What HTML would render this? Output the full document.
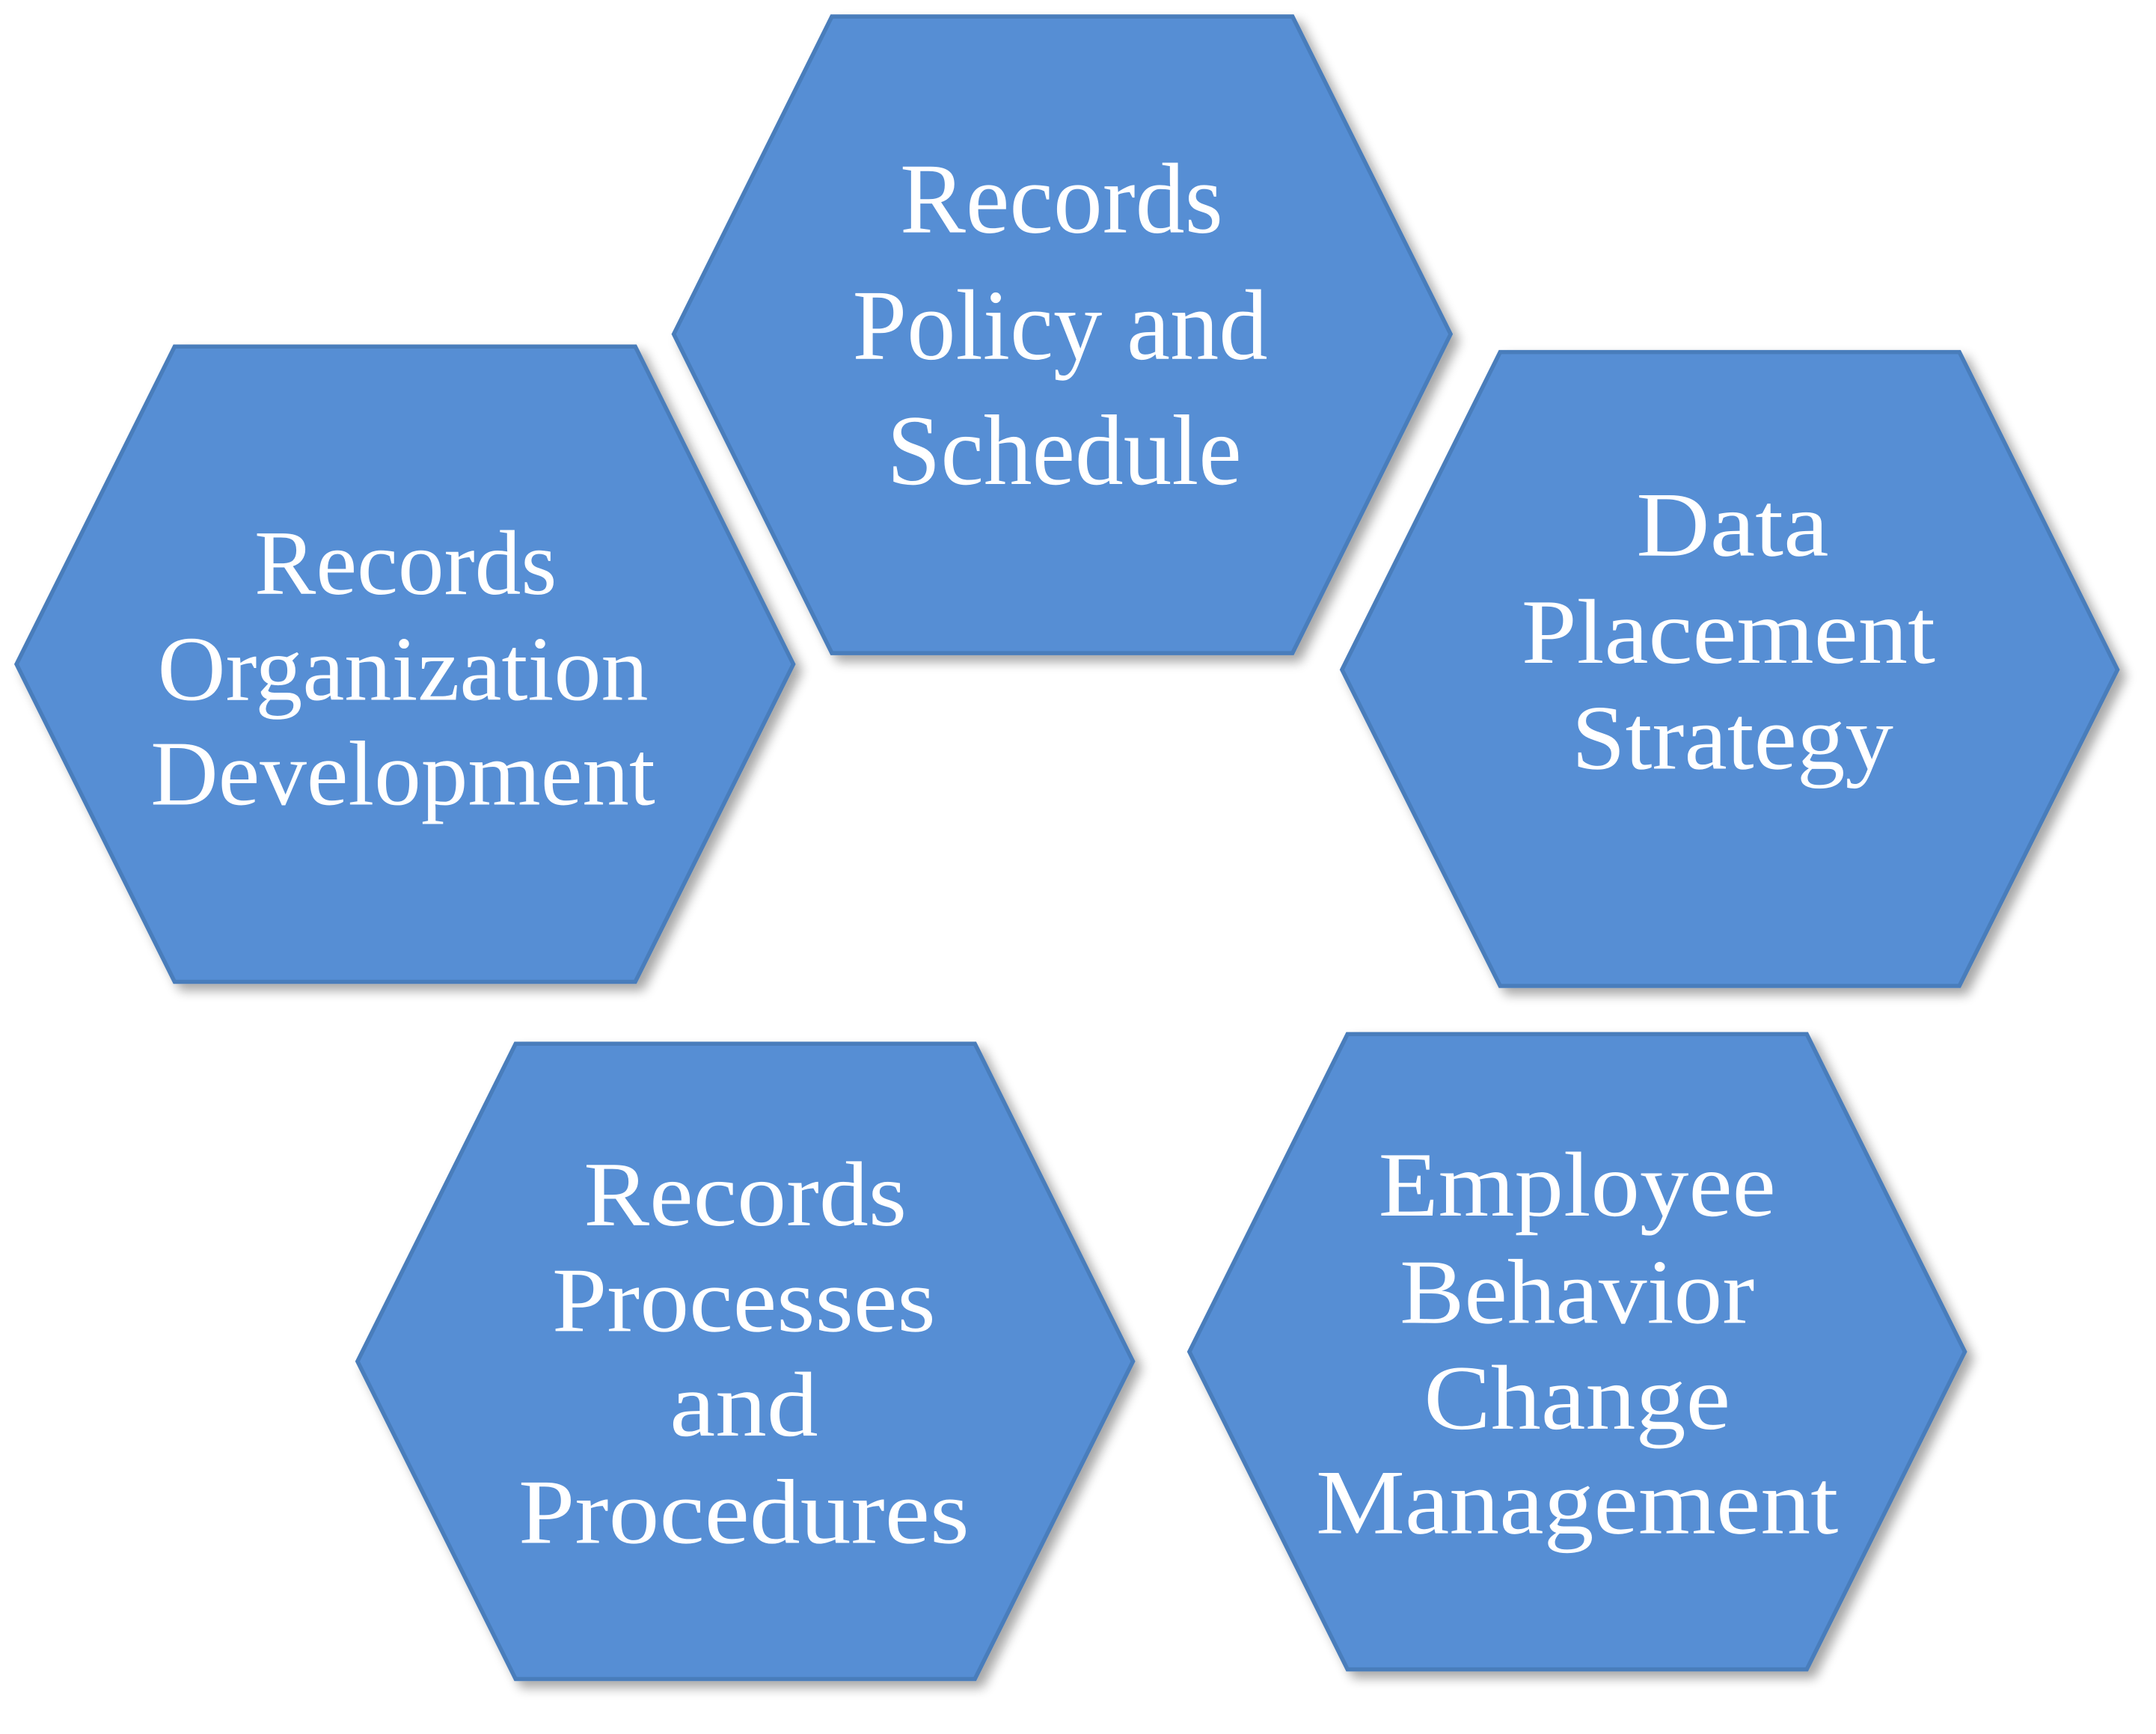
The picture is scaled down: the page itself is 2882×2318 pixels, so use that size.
<!DOCTYPE html>
<html><head><meta charset="utf-8"><style>
html,body{margin:0;padding:0;background:#fff;}
svg{display:block;}
text{font-family:"Liberation Serif","DejaVu Serif",serif;fill:#fff;text-anchor:middle;}
</style></head><body>
<svg width="2882" height="2318" viewBox="0 0 1568 1261" preserveAspectRatio="none" xmlns="http://www.w3.org/2000/svg">
<defs>
<filter id="sh" x="-10%" y="-10%" width="125%" height="125%">
<feGaussianBlur in="SourceAlpha" stdDeviation="4"/>
<feOffset dx="5" dy="5" result="b"/>
<feComponentTransfer><feFuncA type="linear" slope="0.35"/></feComponentTransfer>
<feMerge><feMergeNode/><feMergeNode in="SourceGraphic"/></feMerge>
</filter>
</defs>
<g fill="#568ED4" stroke="#4A7DBB" stroke-width="3" filter="url(#sh)">
<polygon points="490,243 605,12 940,12 1055,243 940,475 605,475"/>
<polygon points="12,483 127,252 462,252 577,483 462,714 127,714"/>
<polygon points="976,487 1091,256 1425,256 1540,487 1425,717 1091,717"/>
<polygon points="260,990 375,759 709,759 824,990 709,1221 375,1221"/>
<polygon points="865,983 980,752 1314,752 1429,983 1314,1214 980,1214"/>
</g>
<g font-size="73">
<text x="772" y="169" textLength="235" lengthAdjust="spacingAndGlyphs">Records</text>
<text x="771" y="261" textLength="302" lengthAdjust="spacingAndGlyphs">Policy and</text>
<text x="774" y="352" textLength="258" lengthAdjust="spacingAndGlyphs">Schedule</text>
</g>
<g font-size="67">
<text x="295" y="432" textLength="220" lengthAdjust="spacingAndGlyphs">Records</text>
<text x="293" y="509" textLength="357" lengthAdjust="spacingAndGlyphs">Organization</text>
<text x="293" y="585" textLength="367" lengthAdjust="spacingAndGlyphs">Development</text>
<text x="1260" y="404" textLength="140" lengthAdjust="spacingAndGlyphs">Data</text>
<text x="1257" y="482" textLength="301" lengthAdjust="spacingAndGlyphs">Placement</text>
<text x="1260" y="559" textLength="234" lengthAdjust="spacingAndGlyphs">Strategy</text>
<text x="542" y="891" textLength="235" lengthAdjust="spacingAndGlyphs">Records</text>
<text x="541" y="968" textLength="279" lengthAdjust="spacingAndGlyphs">Processes</text>
<text x="541" y="1044" textLength="108" lengthAdjust="spacingAndGlyphs">and</text>
<text x="541" y="1122" textLength="328" lengthAdjust="spacingAndGlyphs">Procedures</text>
<text x="1147" y="884" textLength="289" lengthAdjust="spacingAndGlyphs">Employee</text>
<text x="1147" y="962" textLength="258" lengthAdjust="spacingAndGlyphs">Behavior</text>
<text x="1147" y="1039" textLength="223" lengthAdjust="spacingAndGlyphs">Change</text>
<text x="1147" y="1115" textLength="380" lengthAdjust="spacingAndGlyphs">Management</text>
</g>
</svg>
</body></html>
